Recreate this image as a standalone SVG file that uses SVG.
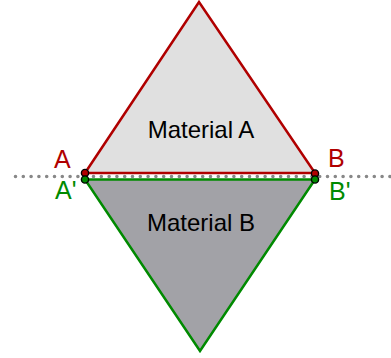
<svg xmlns="http://www.w3.org/2000/svg" width="391" height="358" viewBox="0 0 391 358">
<style>
.lbl{font-family:"Liberation Sans",Arial,sans-serif;font-size:24px}
.pl{font-size:25px}
.red{fill:#b00000}
.grn{fill:#008a00}
.mat{fill:#000;text-anchor:middle}
.pt{stroke:#000;stroke-width:1.4}
</style>
<rect width="391" height="358" fill="#fff"/>
<g id="triangleA">
<polygon points="85,173 199,2 315,173" fill="#e0e0e0" stroke="#b00000" stroke-width="2.5"/>
</g>
<g id="triangleB">
<polygon points="85,179.5 315,179.5 200,351" fill="#a2a2a7" stroke="#008a00" stroke-width="2.5"/>
</g>
<g id="connectors">
<line x1="15.5" y1="176.5" x2="391" y2="176.5" stroke="#888" stroke-width="3.6" stroke-linecap="round" stroke-dasharray="0 7.8"/>
</g>
<g id="pointA"><circle class="pt red" cx="85" cy="173" r="3.6"/></g>
<g id="pointA2"><circle class="pt grn" cx="85" cy="179.5" r="3.6"/></g>
<g id="pointB"><circle class="pt red" cx="315" cy="173.5" r="3.6"/></g>
<g id="pointB2"><circle class="pt grn" cx="315" cy="179.5" r="3.6"/></g>
<g id="labels">
<text class="lbl pl red" x="54" y="168">A</text>
<text class="lbl pl grn" x="55" y="199">A'</text>
<text class="lbl pl red" x="328" y="167">B</text>
<text class="lbl pl grn" x="329" y="200">B'</text>
<text class="lbl mat" x="201" y="138">Material A</text>
<text class="lbl mat" x="201" y="231">Material B</text>
</g>
</svg>
